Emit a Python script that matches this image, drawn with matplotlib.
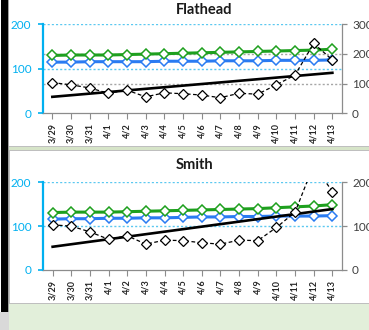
import matplotlib
matplotlib.use("Agg")
import matplotlib.pyplot as plt
from matplotlib.patches import Rectangle

plt.rcParams['font.family'] = ['Lato', 'DejaVu Sans']

dates = ['3/29', '3/30', '3/31', '4/1', '4/2', '4/3', '4/4', '4/5',
         '4/6', '4/7', '4/8', '4/9', '4/10', '4/11', '4/12', '4/13']

# Flathead
flathead_green = [130, 131, 131, 131, 132, 133, 134, 135, 136, 137, 138, 139, 140, 141, 142, 144]
flathead_blue = [115, 115, 116, 116, 116, 116, 117, 117, 117, 118, 118, 118, 119, 119, 119, 120]
flathead_obs = [69, 64, 57, 45, 52, 37, 46, 44, 41, 35, 45, 43, 64, 86, 157, 120]
flathead_trend = [37, 91]

# Smith
smith_green = [131, 132, 132, 132, 133, 134, 135, 136, 137, 138, 139, 140, 142, 144, 146, 149]
smith_blue = [116, 117, 117, 118, 118, 119, 119, 120, 121, 121, 122, 122, 123, 123, 123, 124]
smith_obs = [103, 100, 87, 70, 78, 59, 68, 67, 62, 59, 68, 67, 97, 132, 240, 179]
smith_trend = [53, 139]

W, H = 369, 330
fig = plt.figure(figsize=(W / 100, H / 100), dpi=100)
fig.patch.set_facecolor('#E2EFDA')


def rect(x0, y0, x1, y1, fc):
    fig.patches.append(Rectangle((x0 / W, 1 - y1 / H), (x1 - x0) / W, (y1 - y0) / H,
                                 transform=fig.transFigure, facecolor=fc,
                                 edgecolor='none', linewidth=0, zorder=-10))


# dashboard frame pieces
rect(0, 0, 9, 312, '#FFFFFF')
rect(1, 0, 8, 312, '#000000')
rect(0, 312, 9, 330, '#D9D9D9')
rect(8, 0, 9, 312, '#A0A0A0')
rect(9, 0, 369, 146, '#FFFFFF')
rect(9, 146, 369, 147, '#BFBFBF')
rect(9, 147, 369, 150, '#D6E4C8')
rect(9, 150, 369, 151, '#BFBFBF')
rect(10, 151, 369, 303, '#FFFFFF')
rect(9, 151, 10, 304, '#BFBFBF')
rect(9, 303, 369, 304, '#BFBFBF')

BLUE_AX = '#00B0F0'
GREEN = '#1EA01E'
BLUE = '#2A7BF2'
GRAY = '#A6A6A6'


def panel(box, title, title_xy, green, blue, obs, trend, right_max):
    x0, y0, x1, y1 = box
    ax = fig.add_axes([x0 / W, 1 - y1 / H, (x1 - x0) / W, (y1 - y0) / H])
    xs = list(range(len(dates)))
    ax.set_xlim(-0.5, len(dates) - 0.5)
    ax.set_ylim(0, 200)

    for v in (100, 200):
        ax.axhline(v, color='#5BC8F0', lw=1.0, ls=(0, (1.5, 1.5)), zorder=1)

    ax2 = ax.twinx()
    ax2.set_ylim(0, right_max)
    if right_max > 200:
        for v in (100, 200):
            ax2.axhline(v, color=GRAY, lw=1.0, ls=(0, (1.5, 1.5)), zorder=1)

    ax.set_zorder(ax2.get_zorder() + 1)
    ax.patch.set_visible(False)
    ax2.patch.set_visible(False)

    mk = dict(marker='D', markersize=5, markerfacecolor='white', markeredgewidth=1.1)
    ax.plot(xs, blue, color=BLUE, lw=2.2, markeredgecolor=BLUE, zorder=3, **mk)
    ax.plot(xs, green, color=GREEN, lw=2.2, markeredgecolor=GREEN, zorder=3, **mk)
    ax.plot([xs[0], xs[-1]], trend, color='black', lw=1.9, zorder=4)
    ax.plot(xs, obs, color='black', lw=0.9, ls=(0, (3, 2)), marker='D', markersize=5.5,
            markerfacecolor='white', markeredgecolor='black', markeredgewidth=0.9, zorder=5)

    ax.spines['top'].set_visible(False)
    ax2.spines['top'].set_visible(False)
    ax.spines['right'].set_visible(False)
    ax2.spines['left'].set_visible(False)
    ax2.spines['bottom'].set_visible(False)
    ax.spines['left'].set_color(BLUE_AX)
    ax.spines['left'].set_linewidth(1.6)
    ax.spines['bottom'].set_color('#8C8C8C')
    ax.spines['bottom'].set_linewidth(0.9)
    ax2.spines['right'].set_color('#8C8C8C')
    ax2.spines['right'].set_linewidth(0.9)

    ax.set_yticks([0, 100, 200])
    ax.tick_params(axis='y', colors=BLUE_AX, labelcolor=BLUE_AX, labelsize=8.5,
                   length=3.5, width=1.2, pad=5)
    ax2.set_yticks(list(range(0, right_max + 1, 100)))
    ax2.tick_params(axis='y', colors='#8C8C8C', labelcolor='#404040', labelsize=8.5,
                    length=3.5, width=0.9, pad=4)

    ax.set_xticks(xs)
    ax.set_xticklabels(dates, rotation=90, fontsize=6.5, fontweight='bold', color='#262626')
    ax.tick_params(axis='x', colors='#8C8C8C', labelcolor='#262626', length=4,
                   width=0.8, pad=3)

    fig.text(title_xy[0] / W, 1 - title_xy[1] / H, title, ha='center', va='center',
             fontsize=10.5, fontweight='bold', color='#1A1A1A')
    return ax


panel((43, 24.3, 341.7, 113.3), 'Flathead', (204, 10), flathead_green, flathead_blue,
      flathead_obs, flathead_trend, 300)
panel((43.3, 182.3, 341.7, 270), 'Smith', (194, 165), smith_green, smith_blue,
      smith_obs, smith_trend, 200)

fig.savefig('out.png', dpi=100, facecolor=fig.get_facecolor())
